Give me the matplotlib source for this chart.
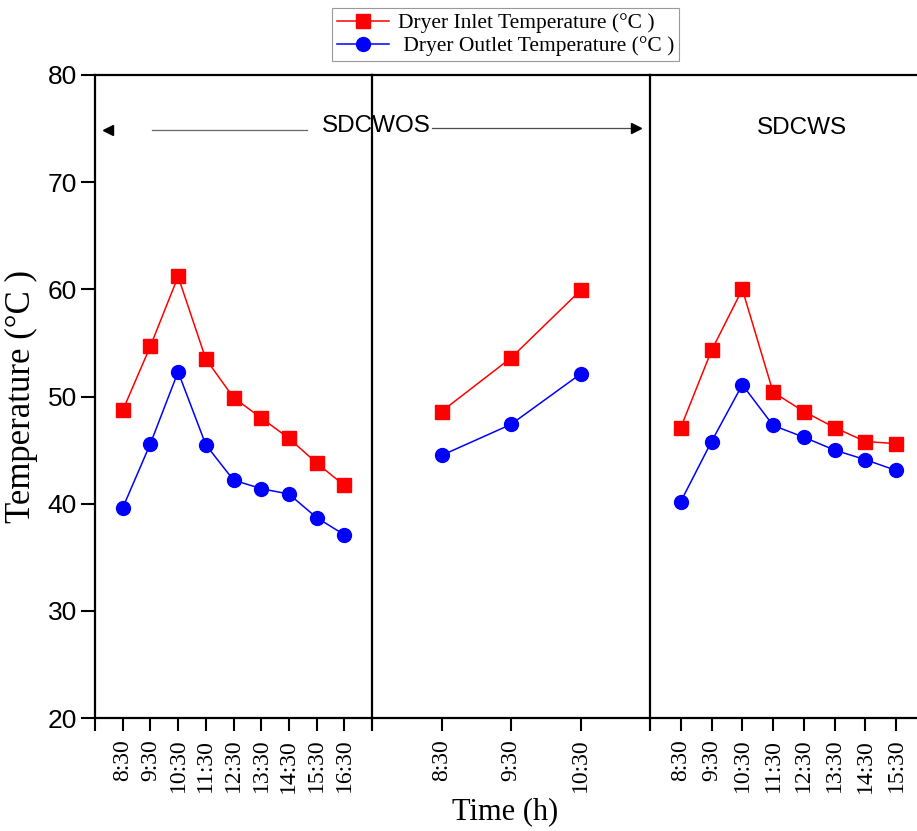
import numpy as np
import matplotlib.pyplot as plt
from matplotlib.lines import Line2D

# Datos
horas_p1 = ['8:30', '9:30', '10:30', '11:30', '12:30', '13:30', '14:30', '15:30', '16:30']
entrada_p1 = [48.7, 54.7, 61.2, 53.5, 49.9, 48.0, 46.1, 43.8, 41.7]
salida_p1 = [39.6, 45.6, 52.3, 45.5, 42.2, 41.4, 40.9, 38.7, 37.1]

horas_p2 = ['8:30', '9:30', '10:30']
entrada_p2 = [48.6, 53.6, 59.9]
salida_p2 = [44.5, 47.4, 52.1]

horas_p3 = ['8:30', '9:30', '10:30', '11:30', '12:30', '13:30', '14:30', '15:30']
entrada_p3 = [47.1, 54.3, 60.0, 50.4, 48.6, 47.1, 45.8, 45.6]
salida_p3 = [40.2, 45.8, 51.1, 47.3, 46.2, 45.0, 44.1, 43.1]

W, H = 917, 831
serif = ['Liberation Serif', 'DejaVu Serif']
sans = ['Liberation Sans', 'DejaVu Sans']

fig = plt.figure(figsize=(W / 100, H / 100), dpi=100)

def px_axes(x0, x1, y0=75, y1=718):
    return fig.add_axes([x0 / W, 1 - y1 / H, (x1 - x0) / W, (y1 - y0) / H])

paneles = [
    (95, 372, horas_p1, entrada_p1, salida_p1),
    (372, 650, horas_p2, entrada_p2, salida_p2),
    (650, 927, horas_p3, entrada_p3, salida_p3),
]

ejes = []
for i, (x0, x1, horas, ent, sal) in enumerate(paneles):
    ax = px_axes(x0, x1)
    n = len(horas)
    pos = np.arange(1, n + 1)
    ax.plot(pos, ent, color='red', lw=1.1, marker='s', ms=9.5, mec='red', label='Dryer Inlet Temperature (°C )')
    ax.plot(pos, sal, color='blue', lw=1.1, marker='o', ms=10, mec='blue', label=' Dryer Outlet Temperature (°C )')
    ax.set_xlim(0, n + 1)
    ax.set_ylim(20, 80)
    ax.set_xticks(np.arange(0, n + 2))
    ax.set_xticklabels([''] + horas + [''], rotation=90, family=serif, fontsize=17)
    ax.tick_params(axis='x', direction='out', length=9, width=1.5, pad=6)
    for s in ax.spines.values():
        s.set_linewidth(1.6)
    if i == 0:
        ax.set_yticks([20, 30, 40, 50, 60, 70, 80])
        ax.tick_params(axis='y', direction='out', length=10, width=1.5, labelsize=19, pad=3)
        for t in ax.get_yticklabels():
            t.set_family(sans)
        ax.set_ylabel('Temperature (°C )', family=serif, fontsize=25)
        ax.yaxis.set_label_coords(-0.205, 0.5)
    else:
        ax.spines['left'].set_visible(False)
        ax.set_yticks([])
    if i == 2:
        ax.spines['right'].set_visible(False)
    ax.patch.set_alpha(0)
    ejes.append(ax)

fig.text(505 / W, 1 - 812 / H, 'Time (h)', family=serif, fontsize=22, ha='center', va='center')

# Anotaciones SDCWOS / SDCWS
fig.text(376 / W, 1 - 126 / H, 'SDCWOS', family=sans, fontsize=17.5, ha='center', va='center')
fig.text(802 / W, 1 - 128 / H, 'SDCWS', family=sans, fontsize=17.5, ha='center', va='center')
tr = fig.transFigure
fig.add_artist(Line2D([152 / W, 307 / W], [1 - 130 / H] * 2, color='0.4', lw=0.9, transform=tr))
fig.add_artist(Line2D([108 / W], [1 - 130 / H], marker='<', ms=7, color='black', lw=0, transform=tr))
fig.add_artist(Line2D([432 / W, 635 / W], [1 - 128 / H] * 2, color='0.3', lw=0.9, transform=tr))
fig.add_artist(Line2D([636 / W], [1 - 128 / H], marker='>', ms=7, color='black', lw=0, transform=tr))

h, l = ejes[0].get_legend_handles_labels()
leg = fig.legend(h, l, loc='upper left', bbox_to_anchor=(332 / W, 1 - 8 / H),
                 prop={'family': serif, 'size': 15.5}, frameon=True, fancybox=False,
                 edgecolor='0.5', handlelength=2.4, labelspacing=0.12, borderpad=0.25,
                 handletextpad=0.4, borderaxespad=0)
leg.get_frame().set_linewidth(0.8)

fig.savefig('out.png', dpi=100)
